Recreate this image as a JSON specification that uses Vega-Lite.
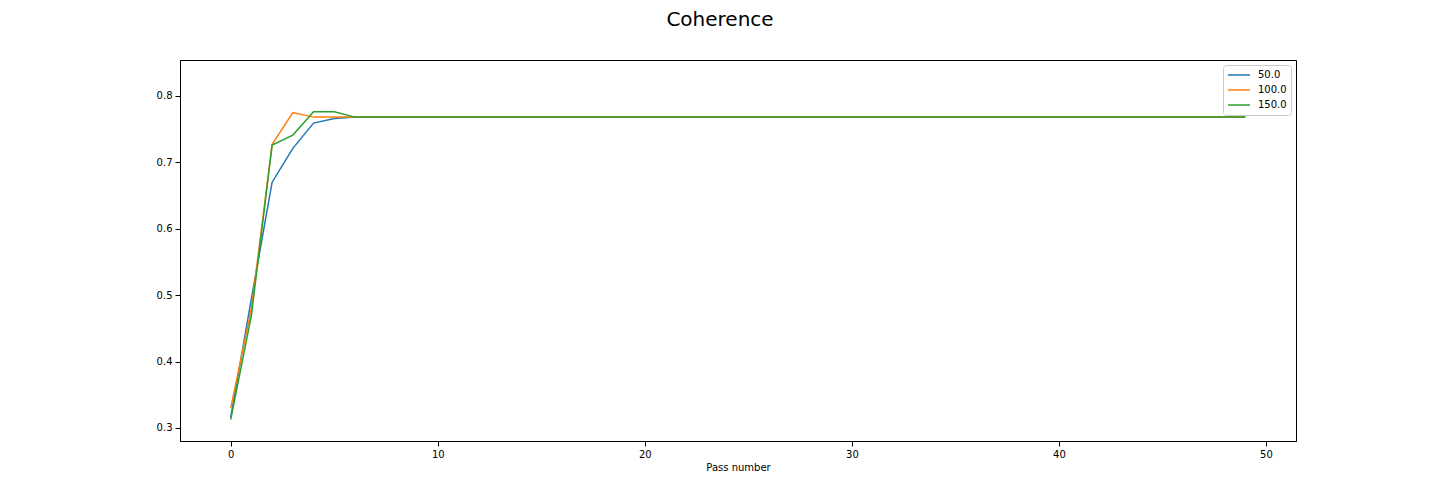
{
  "$schema": "https://vega.github.io/schema/vega-lite/v6.json",
  "width": 1116,
  "height": 381,
  "autosize": {"type": "none"},
  "padding": {"left": 180, "top": 60, "right": 144, "bottom": 63},
  "background": "white",
  "title": {"text": "Coherence", "font": "DejaVu Sans", "fontSize": 20, "fontWeight": "normal", "color": "black", "anchor": "middle", "frame": "group", "dx": -18, "offset": 30},
  "config": {
    "view": {"stroke": "black", "strokeWidth": 1},
    "axis": {"grid": false, "labelFont": "DejaVu Sans", "labelFontSize": 10, "labelColor": "black", "tickColor": "black", "domainColor": "black", "tickSize": 5, "titleFont": "DejaVu Sans", "titleFontSize": 10, "titleFontWeight": "normal", "titleColor": "black", "labelPadding": 3},
    "legend": {"labelFont": "DejaVu Sans", "labelFontSize": 10, "labelColor": "black"}
  },
  "data": {"values": [
    {"x":0,"k":"50.0","y":0.316},{"x":1,"k":"50.0","y":0.495},{"x":2,"k":"50.0","y":0.670},{"x":3,"k":"50.0","y":0.721},{"x":4,"k":"50.0","y":0.759},{"x":5,"k":"50.0","y":0.766},{"x":6,"k":"50.0","y":0.768},{"x":7,"k":"50.0","y":0.768},{"x":8,"k":"50.0","y":0.768},{"x":9,"k":"50.0","y":0.768},
    {"x":10,"k":"50.0","y":0.768},{"x":11,"k":"50.0","y":0.768},{"x":12,"k":"50.0","y":0.768},{"x":13,"k":"50.0","y":0.768},{"x":14,"k":"50.0","y":0.768},{"x":15,"k":"50.0","y":0.768},{"x":16,"k":"50.0","y":0.768},{"x":17,"k":"50.0","y":0.768},{"x":18,"k":"50.0","y":0.768},{"x":19,"k":"50.0","y":0.768},
    {"x":20,"k":"50.0","y":0.768},{"x":21,"k":"50.0","y":0.768},{"x":22,"k":"50.0","y":0.768},{"x":23,"k":"50.0","y":0.768},{"x":24,"k":"50.0","y":0.768},{"x":25,"k":"50.0","y":0.768},{"x":26,"k":"50.0","y":0.768},{"x":27,"k":"50.0","y":0.768},{"x":28,"k":"50.0","y":0.768},{"x":29,"k":"50.0","y":0.768},
    {"x":30,"k":"50.0","y":0.768},{"x":31,"k":"50.0","y":0.768},{"x":32,"k":"50.0","y":0.768},{"x":33,"k":"50.0","y":0.768},{"x":34,"k":"50.0","y":0.768},{"x":35,"k":"50.0","y":0.768},{"x":36,"k":"50.0","y":0.768},{"x":37,"k":"50.0","y":0.768},{"x":38,"k":"50.0","y":0.768},{"x":39,"k":"50.0","y":0.768},
    {"x":40,"k":"50.0","y":0.768},{"x":41,"k":"50.0","y":0.768},{"x":42,"k":"50.0","y":0.768},{"x":43,"k":"50.0","y":0.768},{"x":44,"k":"50.0","y":0.768},{"x":45,"k":"50.0","y":0.768},{"x":46,"k":"50.0","y":0.768},{"x":47,"k":"50.0","y":0.768},{"x":48,"k":"50.0","y":0.768},{"x":49,"k":"50.0","y":0.768},
    {"x":0,"k":"100.0","y":0.330},{"x":1,"k":"100.0","y":0.480},{"x":2,"k":"100.0","y":0.727},{"x":3,"k":"100.0","y":0.775},{"x":4,"k":"100.0","y":0.768},{"x":5,"k":"100.0","y":0.768},{"x":6,"k":"100.0","y":0.768},{"x":7,"k":"100.0","y":0.768},{"x":8,"k":"100.0","y":0.768},{"x":9,"k":"100.0","y":0.768},
    {"x":10,"k":"100.0","y":0.768},{"x":11,"k":"100.0","y":0.768},{"x":12,"k":"100.0","y":0.768},{"x":13,"k":"100.0","y":0.768},{"x":14,"k":"100.0","y":0.768},{"x":15,"k":"100.0","y":0.768},{"x":16,"k":"100.0","y":0.768},{"x":17,"k":"100.0","y":0.768},{"x":18,"k":"100.0","y":0.768},{"x":19,"k":"100.0","y":0.768},
    {"x":20,"k":"100.0","y":0.768},{"x":21,"k":"100.0","y":0.768},{"x":22,"k":"100.0","y":0.768},{"x":23,"k":"100.0","y":0.768},{"x":24,"k":"100.0","y":0.768},{"x":25,"k":"100.0","y":0.768},{"x":26,"k":"100.0","y":0.768},{"x":27,"k":"100.0","y":0.768},{"x":28,"k":"100.0","y":0.768},{"x":29,"k":"100.0","y":0.768},
    {"x":30,"k":"100.0","y":0.768},{"x":31,"k":"100.0","y":0.768},{"x":32,"k":"100.0","y":0.768},{"x":33,"k":"100.0","y":0.768},{"x":34,"k":"100.0","y":0.768},{"x":35,"k":"100.0","y":0.768},{"x":36,"k":"100.0","y":0.768},{"x":37,"k":"100.0","y":0.768},{"x":38,"k":"100.0","y":0.768},{"x":39,"k":"100.0","y":0.768},
    {"x":40,"k":"100.0","y":0.768},{"x":41,"k":"100.0","y":0.768},{"x":42,"k":"100.0","y":0.768},{"x":43,"k":"100.0","y":0.768},{"x":44,"k":"100.0","y":0.768},{"x":45,"k":"100.0","y":0.768},{"x":46,"k":"100.0","y":0.768},{"x":47,"k":"100.0","y":0.768},{"x":48,"k":"100.0","y":0.768},{"x":49,"k":"100.0","y":0.768},
    {"x":0,"k":"150.0","y":0.3125},{"x":1,"k":"150.0","y":0.470},{"x":2,"k":"150.0","y":0.726},{"x":3,"k":"150.0","y":0.741},{"x":4,"k":"150.0","y":0.776},{"x":5,"k":"150.0","y":0.776},{"x":6,"k":"150.0","y":0.768},{"x":7,"k":"150.0","y":0.768},{"x":8,"k":"150.0","y":0.768},{"x":9,"k":"150.0","y":0.768},
    {"x":10,"k":"150.0","y":0.768},{"x":11,"k":"150.0","y":0.768},{"x":12,"k":"150.0","y":0.768},{"x":13,"k":"150.0","y":0.768},{"x":14,"k":"150.0","y":0.768},{"x":15,"k":"150.0","y":0.768},{"x":16,"k":"150.0","y":0.768},{"x":17,"k":"150.0","y":0.768},{"x":18,"k":"150.0","y":0.768},{"x":19,"k":"150.0","y":0.768},
    {"x":20,"k":"150.0","y":0.768},{"x":21,"k":"150.0","y":0.768},{"x":22,"k":"150.0","y":0.768},{"x":23,"k":"150.0","y":0.768},{"x":24,"k":"150.0","y":0.768},{"x":25,"k":"150.0","y":0.768},{"x":26,"k":"150.0","y":0.768},{"x":27,"k":"150.0","y":0.768},{"x":28,"k":"150.0","y":0.768},{"x":29,"k":"150.0","y":0.768},
    {"x":30,"k":"150.0","y":0.768},{"x":31,"k":"150.0","y":0.768},{"x":32,"k":"150.0","y":0.768},{"x":33,"k":"150.0","y":0.768},{"x":34,"k":"150.0","y":0.768},{"x":35,"k":"150.0","y":0.768},{"x":36,"k":"150.0","y":0.768},{"x":37,"k":"150.0","y":0.768},{"x":38,"k":"150.0","y":0.768},{"x":39,"k":"150.0","y":0.768},
    {"x":40,"k":"150.0","y":0.768},{"x":41,"k":"150.0","y":0.768},{"x":42,"k":"150.0","y":0.768},{"x":43,"k":"150.0","y":0.768},{"x":44,"k":"150.0","y":0.768},{"x":45,"k":"150.0","y":0.768},{"x":46,"k":"150.0","y":0.768},{"x":47,"k":"150.0","y":0.768},{"x":48,"k":"150.0","y":0.768},{"x":49,"k":"150.0","y":0.768}
  ]},
  "mark": {"type": "line", "strokeWidth": 1.5, "clip": true},
  "encoding": {
    "x": {"field": "x", "type": "quantitative", "scale": {"domain": [-2.45, 51.45], "nice": false, "zero": false}, "axis": {"title": "Pass number", "values": [0, 10, 20, 30, 40, 50], "format": "d", "titlePadding": 3}},
    "y": {"field": "y", "type": "quantitative", "scale": {"domain": [0.2804, 0.854], "nice": false, "zero": false}, "axis": {"title": null, "values": [0.3, 0.4, 0.5, 0.6, 0.7, 0.8], "format": ".1f"}},
    "color": {"field": "k", "type": "nominal", "sort": ["50.0", "100.0", "150.0"], "scale": {"domain": ["50.0", "100.0", "150.0"], "range": ["#1f77b4", "#ff7f0e", "#2ca02c"]},
      "legend": {"title": null, "orient": "top-right", "offset": 5, "symbolType": "stroke", "symbolSize": 484, "symbolStrokeWidth": 1.5, "strokeColor": "#cccccc", "fillColor": "white", "cornerRadius": 3, "padding": 4, "rowPadding": 3, "clipHeight": 12, "labelOffset": 7}}
  }
}
